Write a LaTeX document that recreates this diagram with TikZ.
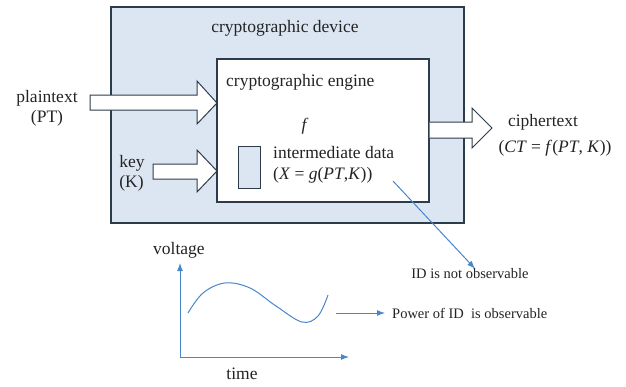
\documentclass[tikz,border=0pt]{standalone}
\usepackage{fontspec}
\setmainfont{Liberation Serif}
\newfontfamily\refserif{Liberation Serif}
\usetikzlibrary{arrows.meta}
\definecolor{devfill}{RGB}{220,230,242}
\definecolor{edge}{RGB}{45,60,75}
\definecolor{lineblue}{RGB}{70,135,205}
\definecolor{txt}{RGB}{35,35,35}
\tikzset{
  big/.style={font=\refserif\fontsize{17.5}{20}\selectfont, text=txt, inner sep=0pt},
  small/.style={font=\refserif\fontsize{14.5}{17}\selectfont, text=txt, inner sep=0pt},
  boxed/.style={draw=edge, line width=1.2pt, inner sep=0pt, rectangle},
  blockarrow/.style={draw=edge, fill=white, line width=1pt, line join=miter},
  blue/.style={draw=lineblue, line width=1pt},
  bluearrow/.style={blue, -{Latex[length=8pt,width=6pt]}}
}
\begin{document}
\begin{tikzpicture}[x=1pt,y=-1pt]
\useasboundingbox (0,0) rectangle (626,386);
% device and engine
\node[boxed, fill=devfill, minimum width=353pt, minimum height=216pt] (device) at (287.5,115) {};
\node[boxed, fill=white, minimum width=212pt, minimum height=143pt] (engine) at (323,130.5) {};
\node[boxed, fill=devfill, line width=1pt, minimum width=22pt, minimum height=42pt] (reg) at (249,167) {};
% labels inside
\node[big] (devlabel) at (285,28) {cryptographic device};
\node[big, anchor=west] (englabel) at (226,82) {cryptographic engine};
\node[big] (f) at (305,126) {\textit{f}};
\node[big, anchor=west] (imd) at (273,153) {intermediate data};
\node[big, anchor=west] (xg) at (273,175) {(\textit{X} = \textit{g}(\textit{PT},\textit{K}))};
% inputs
\node[big, align=center] (pt) at (47,108) {plaintext\\(PT)};
\node[big, align=left] (key) at (132,173) {key\\(K)};
\node[big] (ct) at (543,122) {ciphertext};
\node[big] (ctf) at (555,148) {(\textit{CT} = \textit{f}(\textit{PT}, \textit{K}))};
% block arrows
\coordinate (pttip) at (217,103);
\coordinate (keytip) at (217,171);
\coordinate (cttip) at (492,128);
\draw[blockarrow] (90,95) -- (197,95) -- (197,81) -- (pttip) -- (197,124) -- (197,110) -- (90,110) -- cycle;
\draw[blockarrow] (153,164) -- (197,164) -- (197,150) -- (keytip) -- (197,192) -- (197,179) -- (153,179) -- cycle;
\draw[blockarrow] (engine.east |- 0,122) -- (472,122) -- (472,108) -- (cttip) -- (472,148) -- (472,138) -- (engine.east |- 0,138);
% not observable
\node[small] (notobs) at (470,274) {ID is not observable};
\coordinate (xgend) at (393,181);
\draw[bluearrow] (xgend) -- (notobs.north -| 475,0);
% graph
\coordinate (origin) at (180,357);
\coordinate (ytop) at (180,263);
\coordinate (xright) at (349,357);
\draw[bluearrow] (origin) -- (ytop);
\draw[bluearrow] (origin) -- (xright);
\node[big] (volt) at (179,250) {voltage};
\node[big] (time) at (242,374) {time};
\draw[blue] plot[smooth, tension=0.6] coordinates {(188,313) (203,293) (225,283) (250,288) (276,306) (302,322) (318,316) (328,295)};
\node[small, anchor=west] (power) at (392,313) {Power of ID\ \ is observable};
\coordinate (pstart) at (336,313);
\coordinate (pend) at (385,313);
\draw[bluearrow] (pstart) -- (pend);
\end{tikzpicture}
\end{document}
